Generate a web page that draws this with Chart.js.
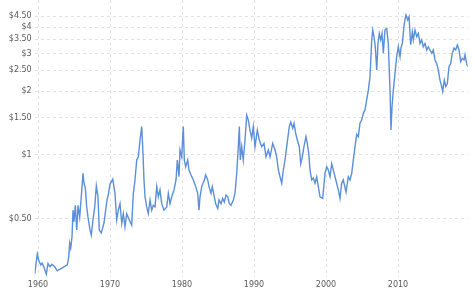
<!DOCTYPE html>
<html><head><meta charset="utf-8">
<script src="https://cdn.jsdelivr.net/npm/chart.js@4.4.1/dist/chart.umd.min.js"></script>
<style>html,body{margin:0;padding:0;background:#fff}canvas{display:block}</style>
</head><body>
<canvas id="c" width="474" height="292"></canvas>
<script>
const years = [
1959.54,1959.90,1960.10,1960.38,1960.56,1960.83,1961.15,1961.39,1961.67,1961.94,
1962.32,1962.68,1963.01,1963.47,1964.07,1964.26,1964.40,1964.54,1964.72,1964.86,
1965.00,1965.18,1965.38,1965.56,1965.79,1966.01,1966.25,1966.39,1966.57,1966.76,
1966.94,1967.22,1967.40,1967.64,1967.88,1968.10,1968.33,1968.51,1968.79,1969.17,
1969.54,1969.79,1970.00,1970.38,1970.69,1970.93,1971.15,1971.39,1971.63,1971.85,
1972.08,1972.32,1972.68,1973.01,1973.24,1973.47,1973.71,1973.93,1974.17,1974.40,
1974.54,1974.72,1974.86,1975.10,1975.32,1975.56,1975.79,1976.01,1976.25,1976.49,
1976.71,1976.94,1977.18,1977.50,1977.88,1978.10,1978.33,1978.57,1978.89,1979.17,
1979.35,1979.58,1979.72,1979.96,1980.18,1980.32,1980.51,1980.79,1980.97,1981.25,
1981.57,1981.90,1982.18,1982.36,1982.50,1982.74,1983.10,1983.29,1983.57,1983.75,
1984.03,1984.21,1984.49,1984.68,1984.96,1985.14,1985.42,1985.65,1985.88,1986.11,
1986.35,1986.57,1986.81,1987.13,1987.36,1987.60,1987.82,1987.96,1988.10,1988.29,
1988.51,1988.75,1988.99,1989.21,1989.44,1989.68,1989.90,1990.14,1990.46,1990.74,
1991.07,1991.39,1991.67,1991.99,1992.22,1992.60,1992.92,1993.15,1993.38,1993.61,
1993.85,1994.07,1994.31,1994.54,1994.90,1995.10,1995.38,1995.56,1995.79,1996.01,
1996.29,1996.49,1996.71,1996.94,1997.22,1997.40,1997.60,1997.78,1998.01,1998.24,
1998.47,1998.71,1998.93,1999.17,1999.54,1999.86,2000.10,2000.32,2000.56,2000.79,
2001.25,2001.71,2001.94,2002.18,2002.40,2002.78,2003.10,2003.33,2003.57,2003.79,
2004.03,2004.26,2004.49,2004.72,2004.96,2005.18,2005.42,2005.65,2005.88,2006.11,
2006.35,2006.49,2006.67,2006.85,2007.04,2007.22,2007.40,2007.60,2007.78,2007.96,
2008.19,2008.43,2008.65,2008.89,2009.03,2009.17,2009.35,2009.58,2009.82,2010.04,
2010.28,2010.42,2010.60,2010.88,2011.11,2011.35,2011.53,2011.76,2011.99,2012.13,
2012.36,2012.60,2012.82,2013.06,2013.29,2013.51,2013.75,2013.99,2014.21,2014.44,
2014.68,2014.90,2015.14,2015.38,2015.60,2015.83,2016.07,2016.21,2016.43,2016.63,
2016.85,2017.08,2017.32,2017.54,2017.78,2018.01,2018.24,2018.47,2018.71,2018.93,
2019.17,2019.31,2019.54,2019.68
];
const prices = [
0.275,0.342,0.320,0.304,0.310,0.296,0.275,0.309,0.298,0.306,
0.298,0.285,0.290,0.296,0.304,0.330,0.385,0.365,0.410,0.550,
0.485,0.580,0.444,0.580,0.510,0.637,0.820,0.736,0.700,0.570,
0.510,0.444,0.420,0.495,0.570,0.715,0.637,0.444,0.430,0.480,
0.600,0.660,0.730,0.770,0.660,0.495,0.550,0.590,0.477,0.530,
0.460,0.530,0.495,0.468,0.660,0.763,0.947,0.980,1.176,1.360,
1.094,0.763,0.636,0.570,0.530,0.614,0.550,0.580,0.570,0.710,
0.636,0.685,0.590,0.550,0.570,0.660,0.590,0.636,0.685,0.763,
0.947,0.790,1.056,0.980,1.360,0.947,0.880,0.947,0.850,0.805,
0.763,0.710,0.660,0.550,0.636,0.710,0.763,0.805,0.763,0.710,
0.660,0.710,0.636,0.590,0.560,0.614,0.590,0.625,0.600,0.648,
0.636,0.590,0.580,0.614,0.660,0.820,1.094,1.360,0.947,1.094,
0.947,1.176,1.540,1.460,1.310,1.200,1.360,1.094,1.310,1.176,
1.094,1.135,0.980,1.056,0.980,1.135,1.056,0.980,0.850,0.790,
0.736,0.850,0.947,1.094,1.360,1.430,1.335,1.410,1.265,1.176,
1.094,0.910,0.980,1.094,1.220,1.135,1.018,0.850,0.763,0.780,
0.736,0.790,0.710,0.636,0.625,0.820,0.880,0.850,0.790,0.910,
0.790,0.685,0.625,0.736,0.763,0.670,0.790,0.763,0.820,0.947,
1.094,1.250,1.220,1.410,1.460,1.570,1.630,1.815,2.020,2.330,
3.480,3.870,3.600,3.230,2.510,3.350,3.730,3.480,3.730,3.010,
3.870,3.940,3.350,2.020,1.310,1.690,2.020,2.420,2.900,3.230,
2.900,3.200,3.350,4.170,4.560,4.320,4.470,3.300,3.800,3.480,
3.870,3.600,3.730,3.350,3.480,3.230,3.350,3.120,3.230,3.120,
3.010,3.120,2.800,2.690,2.510,2.250,2.100,1.990,2.250,2.100,
2.170,2.600,2.690,3.010,3.180,3.120,3.290,3.120,2.750,2.850,
2.800,2.960,2.690,2.600
];
const yTickValues = [0.5, 1, 1.5, 2, 2.5, 3, 3.5, 4, 4.5];
const xTickValues = [1960, 1970, 1980, 1990, 2000, 2010];

const points = years.map((x, i) => ({ x: x, y: prices[i] }));
const tickFont = { family: 'DejaVu Sans', size: 8 };
const tickColor = '#5a5a5a';
const gridColor = '#e2e2e2';

function fmtPrice(v) {
  return '$' + (Number.isInteger(v) ? String(v) : v.toFixed(2));
}

new Chart(document.getElementById('c'), {
  type: 'line',
  data: {
    datasets: [{
      data: points,
      borderColor: '#5b8fd8',
      borderWidth: 1.4,
      pointRadius: 0,
      tension: 0,
      fill: false
    }]
  },
  options: {
    responsive: false,
    animation: false,
    events: [],
    layout: { padding: { top: 0, right: 6.3, bottom: 0, left: 0 } },
    plugins: { legend: { display: false }, tooltip: { enabled: false } },
    scales: {
      x: {
        type: 'linear',
        min: years[0],
        max: years[years.length - 1],
        afterBuildTicks: s => { s.ticks = xTickValues.map(v => ({ value: v })); },
        afterFit: s => { s.height = 15; s.paddingLeft = 0; s.paddingRight = 0; },
        ticks: { font: tickFont, color: tickColor, padding: 3, maxRotation: 0, autoSkip: false,
                 callback: v => String(v) },
        grid: { color: gridColor, lineWidth: 1, drawTicks: false },
        border: { display: false, dash: [3, 3] }
      },
      y: {
        type: 'logarithmic',
        min: 0.2667,
        max: 5.36,
        afterBuildTicks: s => { s.ticks = yTickValues.map(v => ({ value: v })); },
        afterFit: s => { s.width = 34.7; s.paddingTop = 0; s.paddingBottom = 0; },
        ticks: { font: tickFont, color: tickColor, padding: 3, autoSkip: false,
                 callback: v => fmtPrice(v) },
        grid: { color: gridColor, lineWidth: 1, drawTicks: false },
        border: { display: false, dash: [3, 3] }
      }
    }
  }
});
</script>
</body></html>
